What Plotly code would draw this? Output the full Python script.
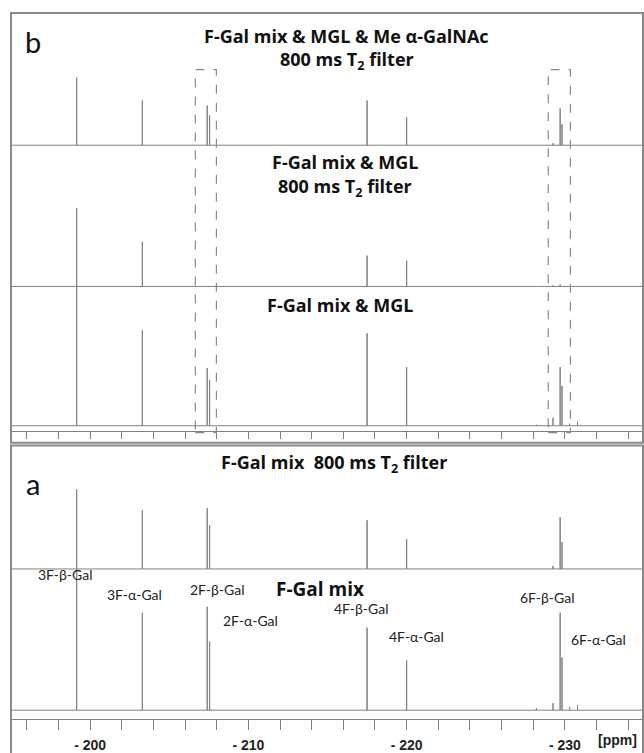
import plotly.graph_objects as go

# ---------------- data ----------------
peak_names = ["3F-β-Gal", "3F-α-Gal", "2F-β-Gal", "2F-α-Gal",
              "4F-β-Gal", "4F-α-Gal", "6F-β-Gal", "6F-α-Gal"]
peak_ppm = [-199.15, -203.3, -207.4, -207.55, -217.5, -220.0, -229.7, -229.82]
minor_ppm = [-228.2, -229.25, -230.3, -230.8]

# intensities (arbitrary units) per spectrum
b_top_main = [68, 45, 40, 30, 45, 28, 37, 21]       # F-Gal mix & MGL & Me a-GalNAc, T2 filter
b_top_minor = [0, 2, 0, 0]
b_mid_main = [79, 45, 0, 0, 31, 26, 2, 0]           # F-Gal mix & MGL, T2 filter
b_mid_minor = [0, 1, 0, 0]
b_bot_main = [141, 96, 58, 46, 93, 59, 59, 40]      # F-Gal mix & MGL
b_bot_minor = [1, 8, 2, 4]
a_top_main = [80, 59, 61, 44, 49, 30, 52, 27]       # F-Gal mix, T2 filter
a_top_minor = [0, 3, 0, 0]
a_bot_main = [142, 98, 104, 69, 83, 50, 98, 53]     # F-Gal mix
a_bot_minor = [2, 7, 3, 5]

x_range = [-195.0, -235.0]
tick_vals = list(range(-196, -236, -2))
label_vals = [-200, -210, -220, -230]
label_text = ["- 200", "- 210", "- 220", "- 230"]

# ---------------- helpers ----------------
W, H = 644, 753
def yp(py):
    return 1 - py / H
def xp(px):
    return px / W

GRAY = "#808080"

def stick(main, minor):
    pts = sorted(list(zip(peak_ppm, main)) + list(zip(minor_ppm, minor)), key=lambda t: -t[0])
    xs, ys = [x_range[0]], [0]
    for p, h in pts:
        xs += [p, p, p]
        ys += [0, h, 0]
    xs.append(x_range[1]); ys.append(0)
    return xs, ys

fig = go.Figure()

# spectra: (main, minor, yaxis id, xaxis id, baseline px, top px)
spectra = [
    (b_top_main, b_top_minor, "y", "x2", 146, 14),
    (b_mid_main, b_mid_minor, "y2", "x2", 288, 146),
    (b_bot_main, b_bot_minor, "y3", "x2", 428, 288),
    (a_top_main, a_top_minor, "y4", "x", 572, 449),
    (a_bot_main, a_bot_minor, "y5", "x", 714, 572),
]

layout_axes = {}
for i, (mn, mi, ya, xa, base, top) in enumerate(spectra):
    xs, ys = stick(mn, mi)
    fig.add_trace(go.Scatter(x=xs, y=ys, mode="lines", xaxis=xa, yaxis=ya,
                             line=dict(color=GRAY, width=1), hoverinfo="skip",
                             showlegend=False))
    name = "yaxis" if ya == "y" else "yaxis" + ya[1:]
    layout_axes[name] = dict(domain=[yp(base + 3), yp(top)], range=[-3, base - top],
                             anchor=xa, visible=False, fixedrange=True)

fig.update_layout(**layout_axes)

axis_common = dict(range=x_range, ticks="outside",
                   tickcolor=GRAY, showline=True, linecolor=GRAY, linewidth=1,
                   showgrid=False, zeroline=False, domain=[xp(11), 1],
                   fixedrange=True)
fig.update_layout(
    xaxis=dict(**axis_common, anchor="free", position=yp(723), ticklen=10,
               tickvals=label_vals, ticktext=label_text,
               tickfont=dict(family="Liberation Sans", size=14, color="#222", weight="bold"),
               ticklabelstandoff=3,
               minor=dict(tickvals=tick_vals, ticks="outside", ticklen=10,
                          tickcolor=GRAY, showgrid=False)),
    xaxis2=dict(**axis_common, anchor="free", position=yp(433), ticklen=7,
                tickvals=tick_vals, showticklabels=False),
)

# frames
shapes = [
    dict(type="rect", xref="paper", yref="paper", x0=xp(11), x1=xp(643), y0=yp(445), y1=yp(13),
         line=dict(color="#8a8a8a", width=2)),
    dict(type="rect", xref="paper", yref="paper", x0=xp(11), x1=xp(643), y0=yp(760), y1=yp(448),
         line=dict(color="#8a8a8a", width=2)),
]
# dashed boxes (ppm ranges)
for x0, x1 in [(-206.65, -207.98), (-228.95, -230.35)]:
    shapes.append(dict(type="rect", xref="x", yref="paper", x0=x0, x1=x1,
                       y0=yp(435), y1=yp(70), line=dict(color="#8a8a8a", width=1.2, dash="dash")))
fig.update_layout(shapes=shapes)

ann = []
def txt(x, y, s, size, bold=False, color="#111", fam="Open Sans"):
    ann.append(dict(x=xp(x), y=yp(y), xref="paper", yref="paper", text=(f"<b>{s}</b>" if bold else s),
                    showarrow=False, font=dict(family=fam, size=size, color=color),
                    xanchor="center", yanchor="middle"))

txt(33, 42, "b", 29, fam="Lato")
txt(33, 486, "a", 29, fam="Lato")
txt(346, 36, "F-Gal mix &amp; MGL &amp; Me α-GalNAc", 18, True)
txt(347, 61, "800 ms T<sub>2</sub> filter", 18, True)
txt(345, 163, "F-Gal mix &amp; MGL", 18, True)
txt(345, 189, "800 ms T<sub>2</sub> filter", 18, True)
txt(340, 307, "F-Gal mix &amp; MGL", 18, True)
txt(334, 466, "F-Gal mix  800 ms T<sub>2</sub> filter", 18, True)
txt(320, 592, "F-Gal mix", 19, True)

label_pos = [(65, 578), (134, 598), (217, 593), (250, 624),
             (361, 612), (416, 640), (547, 601), (598, 643)]
for name, (lx, ly) in zip(peak_names, label_pos):
    txt(lx, ly, name, 14, False, "#222", fam="Lato")
txt(617, 744, "[ppm]", 14, True, "#222", fam="Liberation Sans")
fig.update_layout(annotations=ann)

fig.update_layout(width=W, height=H, margin=dict(l=0, r=0, t=0, b=0),
                  paper_bgcolor="white", plot_bgcolor="rgba(0,0,0,0)")
fig.write_html("out.html", config={"displayModeBar": False},
               post_script="document.body.style.margin='0';document.body.style.overflow='hidden';")
